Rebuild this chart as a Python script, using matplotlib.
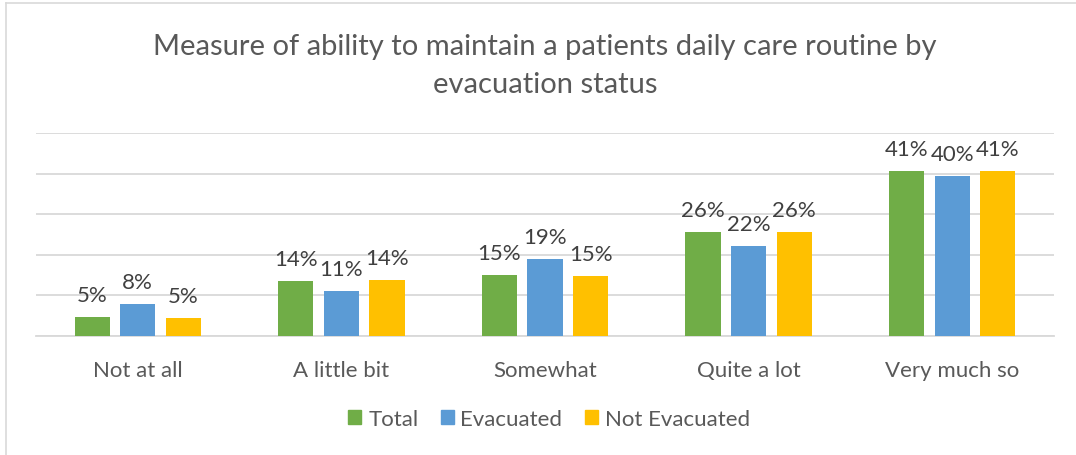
import matplotlib
matplotlib.use("Agg")
import matplotlib.pyplot as plt
from matplotlib.lines import Line2D
import numpy as np

categories = ["Not at all", "A little bit", "Somewhat", "Quite a lot", "Very much so"]
series_names = ["Total", "Evacuated", "Not Evacuated"]
total = [4.7, 13.6, 15.0, 25.5, 40.6]
evacuated = [7.9, 11.1, 19.0, 22.2, 39.4]
not_evacuated = [4.5, 13.8, 14.8, 25.6, 40.7]
total_labels = ["5%", "14%", "15%", "26%", "41%"]
evacuated_labels = ["8%", "11%", "19%", "22%", "40%"]
not_evacuated_labels = ["5%", "14%", "15%", "26%", "41%"]
colors = ["#70AD47", "#5B9BD5", "#FFC000"]

plt.rcParams['font.family'] = ['Lato', 'DejaVu Sans']
txt = "#595959"
fs = 16

fig = plt.figure(figsize=(10.76, 4.56), dpi=100)
ax = fig.add_axes([36/1076, 1-337/456, (1054-36)/1076, (337-134)/456])

x = np.arange(len(categories))
width = 0.172
step = 0.224
data = [total, evacuated, not_evacuated]
labels = [total_labels, evacuated_labels, not_evacuated_labels]
for i, (vals, labs, c, name) in enumerate(zip(data, labels, colors, series_names)):
    pos = x + (i - 1) * step
    ax.bar(pos, vals, width, color=c, label=name, zorder=3)
    for p, v, l in zip(pos, vals, labs):
        ax.text(p, v + 3.0, l, ha="center", va="bottom", fontsize=fs, color="#404040")

ax.set_xlim(-0.5, 4.5)
ax.set_ylim(0, 50)
ax.set_yticks([0, 10, 20, 30, 40, 50])
ax.yaxis.grid(True, color="#D9D9D9", linewidth=1.3, zorder=0)
ax.tick_params(axis="y", left=False, labelleft=False)
ax.tick_params(axis="x", bottom=False, length=0, pad=17)
ax.set_xticks(x)
ax.set_xticklabels(categories, fontsize=fs, color=txt)
for s in ["top", "right", "left"]:
    ax.spines[s].set_visible(False)
ax.spines["bottom"].set_color("#D9D9D9")
ax.spines["bottom"].set_linewidth(1.3)

fig.text(545/1076, 1-66/456, "Measure of ability to maintain a patients daily care routine by\nevacuation status",
         ha="center", va="center", fontsize=21, color=txt, linespacing=1.55)

handles = [plt.Rectangle((0, 0), 1, 1, color=c) for c in colors]
fig.legend(handles, series_names, loc="center", bbox_to_anchor=(549/1076, 1-420/456), ncol=3,
           frameon=False, fontsize=fs, handlelength=0.6, handleheight=0.6, handletextpad=0.3,
           columnspacing=1.0, labelcolor=txt)

fig.add_artist(Line2D([6/1076, 6/1076], [0, 1-4/456], transform=fig.transFigure, color="#D9D9D9", linewidth=1.2))
fig.add_artist(Line2D([6/1076, 1], [1-4/456, 1-4/456], transform=fig.transFigure, color="#D9D9D9", linewidth=1.2))

fig.savefig("out.png", dpi=100, facecolor="white")
